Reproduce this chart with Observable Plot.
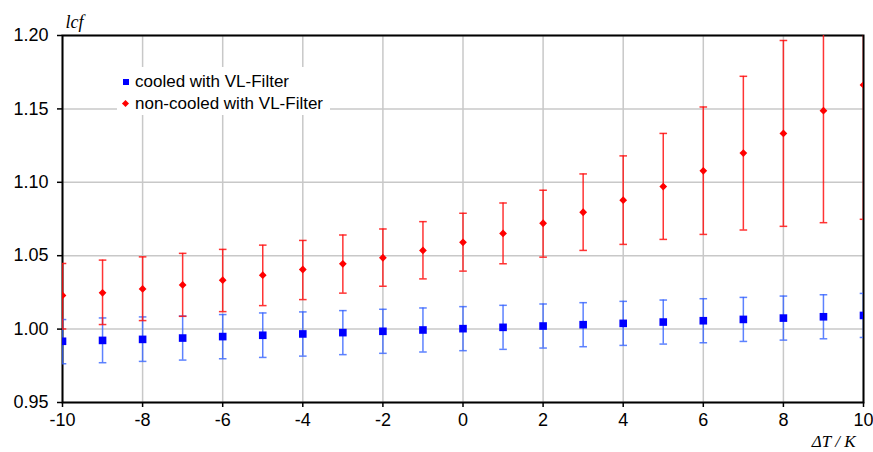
<!DOCTYPE html>
<html><head><meta charset="utf-8">
<script src="https://cdn.jsdelivr.net/npm/d3@7"></script>
<script src="https://cdn.jsdelivr.net/npm/@observablehq/plot@0.6"></script>
<style>
body{margin:0;background:#fff;}
#wrap{position:relative;width:873px;height:452px;}
.legend{position:absolute;left:117px;top:67px;width:213px;height:48px;background:#fff;font-family:"Liberation Sans",Arial,sans-serif;font-size:17px;color:#000;}
.legend .item{position:absolute;left:0;height:20px;line-height:20px;white-space:nowrap;}
.legend .sw{position:absolute;}
.legend .lab{position:absolute;left:18px;top:0;}
</style>
</head><body>
<div id="wrap"></div>
<script>
const dT = [-10,-9,-8,-7,-6,-5,-4,-3,-2,-1,0,1,2,3,4,5,6,7,8,9,10];
const cooled = [0.9917,0.9923,0.9930,0.9939,0.9949,0.9958,0.9967,0.9976,0.9985,0.9994,1.0003,1.0012,1.0021,1.0030,1.0039,1.0048,1.0057,1.0066,1.0075,1.0084,1.0093];
const cooledHigh = [1.0065,1.0076,1.0083,1.0089,1.0099,1.0110,1.0117,1.0126,1.0135,1.0144,1.0153,1.0162,1.0171,1.0180,1.0189,1.0198,1.0207,1.0216,1.0225,1.0234,1.0243];
const cooledLow = [0.9764,0.9771,0.9780,0.9789,0.9798,0.9807,0.9816,0.9826,0.9835,0.9844,0.9853,0.9862,0.9871,0.9880,0.9889,0.9898,0.9907,0.9916,0.9925,0.9934,0.9943];
const nonCooled = [1.0229,1.0247,1.0274,1.0301,1.0333,1.0367,1.0406,1.0445,1.0486,1.0536,1.0591,1.0652,1.0721,1.0796,1.0878,1.0971,1.1078,1.1199,1.1333,1.1488,1.1663];
const nonCooledHigh = [1.0447,1.0470,1.0492,1.0516,1.0543,1.0572,1.0604,1.0641,1.0682,1.0732,1.0789,1.0859,1.0946,1.1057,1.1180,1.1333,1.1513,1.1722,1.1966,1.2250,1.2580];
const nonCooledLow = [1.0001,1.0031,1.0058,1.0087,1.0119,1.0160,1.0201,1.0245,1.0292,1.0342,1.0395,1.0445,1.0490,1.0536,1.0577,1.0611,1.0645,1.0675,1.0700,1.0725,1.0748];
const xTicks = [-10,-8,-6,-4,-2,0,2,4,6,8,10];
const yTicks = [0.95,1.00,1.05,1.10,1.15,1.20];
const seriesNames = ["cooled with VL-Filter","non-cooled with VL-Filter"];
const yLabel = "lcf";
const xLabel = "ΔT / K";

const blueRows = dT.map((d,i)=>({dT:d, v:cooled[i], lo:cooledLow[i], hi:cooledHigh[i]}));
const redRows = dT.map((d,i)=>({dT:d, v:nonCooled[i], lo:nonCooledLow[i], hi:nonCooledHigh[i]}));

const cap = {draw(ctx, size){ const w = Math.sqrt(size/Math.PI); ctx.moveTo(-w,0); ctx.lineTo(w,0); }};
const blueErr = "#3563ff", redErr = "#ff1010";
const gridStyle = {stroke:"#c8c8c8", strokeOpacity:1, strokeWidth:1.5};

function errMarks(rows, color, op){
  return [
    Plot.ruleX(rows, {x:"dT", y1:"lo", y2:"hi", stroke:color, strokeOpacity:op, strokeWidth:1.5, clip:true}),
    Plot.dot(rows, {x:"dT", y:"hi", symbol:cap, r:3.8, stroke:color, strokeOpacity:op, strokeWidth:1.5, clip:true}),
    Plot.dot(rows, {x:"dT", y:"lo", symbol:cap, r:3.8, stroke:color, strokeOpacity:op, strokeWidth:1.5, clip:true})
  ];
}

const chart = Plot.plot({
  width:873, height:452,
  marginTop:35, marginBottom:50, marginLeft:62, marginRight:10,
  x:{domain:[-10,10]},
  y:{domain:[0.95,1.20]},
  style:{fontFamily:"'Liberation Sans', Arial, sans-serif", fontSize:"18px", background:"white", color:"black"},
  marks:[
    Plot.gridX(xTicks, gridStyle),
    Plot.gridY(yTicks, gridStyle),
    Plot.frame({stroke:"black", strokeWidth:2}),
    Plot.axisX(xTicks, {tickSize:5, tickPadding:6, tickFormat:d=>String(d), label:null, strokeWidth:1.5}),
    Plot.axisY(yTicks, {tickSize:5, tickPadding:9, tickFormat:d3.format(".2f"), label:null, strokeWidth:1.5}),
    ...errMarks(blueRows, blueErr, 0.8),
    ...errMarks(redRows, redErr, 0.85),
    Plot.dot(blueRows, {x:"dT", y:"v", symbol:"square", r:4.3, fill:"#0000ff", clip:true}),
    Plot.dot(redRows, {x:"dT", y:"v", symbol:"diamond2", r:3.5, fill:"#ff0000", clip:true}),
    Plot.text([yLabel], {frameAnchor:"top-left", textAnchor:"start", lineAnchor:"bottom", dx:3, dy:-8, fontFamily:"'Liberation Serif', 'Times New Roman', serif", fontStyle:"italic", fontSize:18}),
    Plot.text([xLabel], {frameAnchor:"bottom-right", textAnchor:"end", lineAnchor:"middle", dx:-8, dy:39, fontFamily:"'Liberation Serif', 'Times New Roman', serif", fontStyle:"italic", fontSize:17})
  ]
});
const wrap = document.getElementById("wrap");
wrap.appendChild(chart);

const legend = document.createElement("div");
legend.className = "legend";
const sw = [
  '<span class="sw" style="left:6px;top:7px;width:6px;height:6px;background:#0000ff"></span>',
  '<span class="sw" style="left:6px;top:7px;width:5px;height:5px;background:#ff0000;transform:rotate(45deg)"></span>'
];
seriesNames.forEach((n,i)=>{
  const it = document.createElement("div");
  it.className = "item";
  it.style.top = (i===0 ? 5 : 27) + "px";
  it.innerHTML = sw[i] + '<span class="lab">' + n + '</span>';
  legend.appendChild(it);
});
wrap.appendChild(legend);
</script>
</body></html>
